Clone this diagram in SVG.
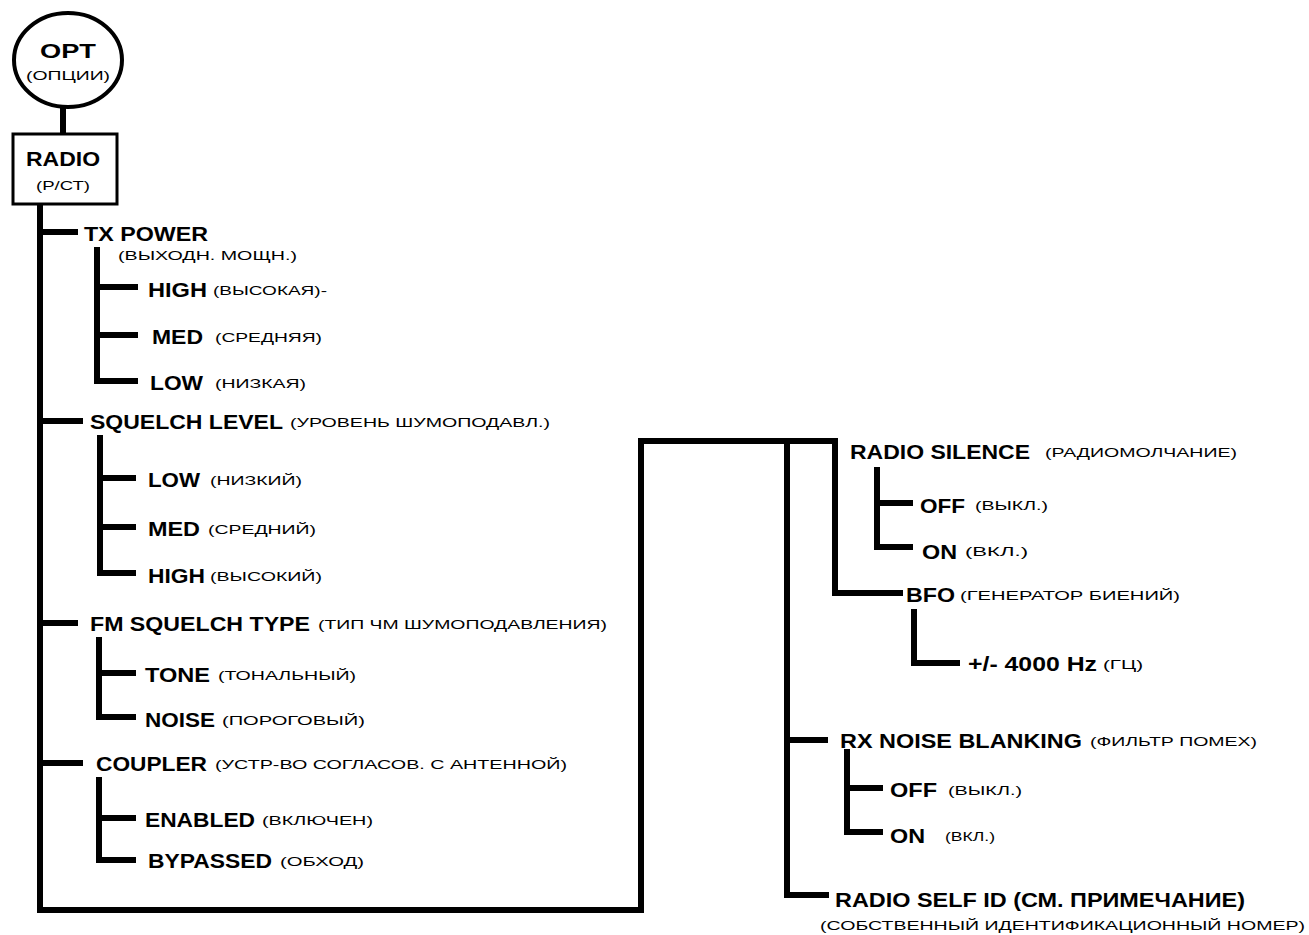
<svg xmlns="http://www.w3.org/2000/svg" width="1309" height="935" viewBox="0 0 1309 935">
<style>
.b{font-family:"Liberation Sans",Arial,sans-serif;font-weight:bold;font-size:20px;fill:#000}
.s{font-family:"Liberation Sans",Arial,sans-serif;font-size:12px;fill:#000}
.ln{fill:none;stroke:#000;stroke-width:6;stroke-linecap:square;stroke-linejoin:miter}
</style>
<rect width="1309" height="935" fill="#fff"/>
<g id="connectors" class="ln">
<path d="M63 108V133"/>
<path d="M40 204V910H641V441H835V593H900"/>
<path d="M40 232H75M40 421H80M40 623H75M40 763H80"/>
<path d="M97 250V381H135M97 287H135M97 335H135"/>
<path d="M100 438V573H133M100 478H133M100 527H133"/>
<path d="M99 640V717H133M99 673H133"/>
<path d="M99 780V860H133M99 818H133"/>
<path d="M787 441V895H826M787 740H825"/>
<path d="M877 470V547H910M877 503H910"/>
<path d="M914 612V663H957"/>
<path d="M847 752V832H880M847 788H880"/>
</g>
<g id="opt">
<ellipse cx="68" cy="60" rx="54" ry="47" fill="#fff" stroke="#000" stroke-width="4"/>
<text class="b" x="68" y="58" text-anchor="middle" font-size="24" textLength="56" lengthAdjust="spacingAndGlyphs">OPT</text>
<text class="s" x="68" y="80" text-anchor="middle" textLength="84" lengthAdjust="spacingAndGlyphs">(ОПЦИИ)</text>
</g>
<g id="radio">
<rect x="13" y="134" width="104" height="70" fill="#fff" stroke="#000" stroke-width="3"/>
<text class="b" x="63" y="166" text-anchor="middle" font-size="21" textLength="74" lengthAdjust="spacingAndGlyphs">RADIO</text>
<text class="s" x="63" y="190" text-anchor="middle" textLength="54" lengthAdjust="spacingAndGlyphs">(Р/СТ)</text>
</g>
<g id="txpower">
<text class="b" x="84" y="241" textLength="124" lengthAdjust="spacingAndGlyphs">TX POWER</text>
<text class="s" x="118" y="260" textLength="179" lengthAdjust="spacingAndGlyphs">(ВЫХОДН. МОЩН.)</text>
</g>
<g id="tx-high"><text class="b" x="148" y="297" textLength="59" lengthAdjust="spacingAndGlyphs">HIGH</text><text class="s" x="213" y="295" textLength="114" lengthAdjust="spacingAndGlyphs">(ВЫСОКАЯ)-</text></g>
<g id="tx-med"><text class="b" x="152" y="344" textLength="51" lengthAdjust="spacingAndGlyphs">MED</text><text class="s" x="215" y="342" textLength="107" lengthAdjust="spacingAndGlyphs">(СРЕДНЯЯ)</text></g>
<g id="tx-low"><text class="b" x="150" y="390" textLength="53" lengthAdjust="spacingAndGlyphs">LOW</text><text class="s" x="215" y="388" textLength="91" lengthAdjust="spacingAndGlyphs">(НИЗКАЯ)</text></g>
<g id="squelch">
<text class="b" x="90" y="429" textLength="193" lengthAdjust="spacingAndGlyphs">SQUELCH LEVEL</text>
<text class="s" x="290" y="427" textLength="260" lengthAdjust="spacingAndGlyphs">(УРОВЕНЬ ШУМОПОДАВЛ.)</text>
</g>
<g id="sq-low"><text class="b" x="148" y="487" textLength="52" lengthAdjust="spacingAndGlyphs">LOW</text><text class="s" x="210" y="485" textLength="92" lengthAdjust="spacingAndGlyphs">(НИЗКИЙ)</text></g>
<g id="sq-med"><text class="b" x="148" y="536" textLength="52" lengthAdjust="spacingAndGlyphs">MED</text><text class="s" x="208" y="534" textLength="108" lengthAdjust="spacingAndGlyphs">(СРЕДНИЙ)</text></g>
<g id="sq-high"><text class="b" x="148" y="583" textLength="57" lengthAdjust="spacingAndGlyphs">HIGH</text><text class="s" x="210" y="581" textLength="112" lengthAdjust="spacingAndGlyphs">(ВЫСОКИЙ)</text></g>
<g id="fmsquelch">
<text class="b" x="90" y="631" textLength="220" lengthAdjust="spacingAndGlyphs">FM SQUELCH TYPE</text>
<text class="s" x="318" y="629" textLength="289" lengthAdjust="spacingAndGlyphs">(ТИП ЧМ ШУМОПОДАВЛЕНИЯ)</text>
</g>
<g id="fm-tone"><text class="b" x="145" y="682" textLength="65" lengthAdjust="spacingAndGlyphs">TONE</text><text class="s" x="218" y="680" textLength="138" lengthAdjust="spacingAndGlyphs">(ТОНАЛЬНЫЙ)</text></g>
<g id="fm-noise"><text class="b" x="145" y="727" textLength="70" lengthAdjust="spacingAndGlyphs">NOISE</text><text class="s" x="222" y="725" textLength="143" lengthAdjust="spacingAndGlyphs">(ПОРОГОВЫЙ)</text></g>
<g id="coupler">
<text class="b" x="96" y="771" textLength="111" lengthAdjust="spacingAndGlyphs">COUPLER</text>
<text class="s" x="215" y="769" textLength="352" lengthAdjust="spacingAndGlyphs">(УСТР-ВО СОГЛАСОВ. С АНТЕННОЙ)</text>
</g>
<g id="cp-enabled"><text class="b" x="145" y="827" textLength="110" lengthAdjust="spacingAndGlyphs">ENABLED</text><text class="s" x="262" y="825" textLength="111" lengthAdjust="spacingAndGlyphs">(ВКЛЮЧЕН)</text></g>
<g id="cp-bypassed"><text class="b" x="148" y="868" textLength="124" lengthAdjust="spacingAndGlyphs">BYPASSED</text><text class="s" x="280" y="866" textLength="84" lengthAdjust="spacingAndGlyphs">(ОБХОД)</text></g>
<g id="radiosilence">
<text class="b" x="850" y="459" textLength="180" lengthAdjust="spacingAndGlyphs">RADIO SILENCE</text>
<text class="s" x="1045" y="457" textLength="192" lengthAdjust="spacingAndGlyphs">(РАДИОМОЛЧАНИЕ)</text>
</g>
<g id="rs-off"><text class="b" x="920" y="513" textLength="45" lengthAdjust="spacingAndGlyphs">OFF</text><text class="s" x="975" y="510" textLength="73" lengthAdjust="spacingAndGlyphs">(ВЫКЛ.)</text></g>
<g id="rs-on"><text class="b" x="922" y="559" textLength="35" lengthAdjust="spacingAndGlyphs">ON</text><text class="s" x="965" y="556" textLength="63" lengthAdjust="spacingAndGlyphs">(ВКЛ.)</text></g>
<g id="bfo">
<text class="b" x="906" y="602" textLength="49" lengthAdjust="spacingAndGlyphs">BFO</text>
<text class="s" x="960" y="600" textLength="220" lengthAdjust="spacingAndGlyphs">(ГЕНЕРАТОР БИЕНИЙ)</text>
</g>
<g id="bfo-hz"><text class="b" x="968" y="671" textLength="129" lengthAdjust="spacingAndGlyphs">+/-  4000 Hz</text><text class="s" x="1103" y="669" textLength="40" lengthAdjust="spacingAndGlyphs">(ГЦ)</text></g>
<g id="rxnoise">
<text class="b" x="840" y="748" textLength="242" lengthAdjust="spacingAndGlyphs">RX NOISE BLANKING</text>
<text class="s" x="1090" y="746" textLength="167" lengthAdjust="spacingAndGlyphs">(ФИЛЬТР ПОМЕХ)</text>
</g>
<g id="rx-off"><text class="b" x="890" y="797" textLength="47" lengthAdjust="spacingAndGlyphs">OFF</text><text class="s" x="948" y="795" textLength="74" lengthAdjust="spacingAndGlyphs">(ВЫКЛ.)</text></g>
<g id="rx-on"><text class="b" x="890" y="843" textLength="35" lengthAdjust="spacingAndGlyphs">ON</text><text class="s" x="945" y="841" textLength="50" lengthAdjust="spacingAndGlyphs">(ВКЛ.)</text></g>
<g id="selfid">
<text class="b" x="835" y="907" textLength="410" lengthAdjust="spacingAndGlyphs">RADIO SELF ID (СМ. ПРИМЕЧАНИЕ)</text>
<text class="s" x="820" y="930" textLength="485" lengthAdjust="spacingAndGlyphs">(СОБСТВЕННЫЙ ИДЕНТИФИКАЦИОННЫЙ НОМЕР)</text>
</g>
</svg>
